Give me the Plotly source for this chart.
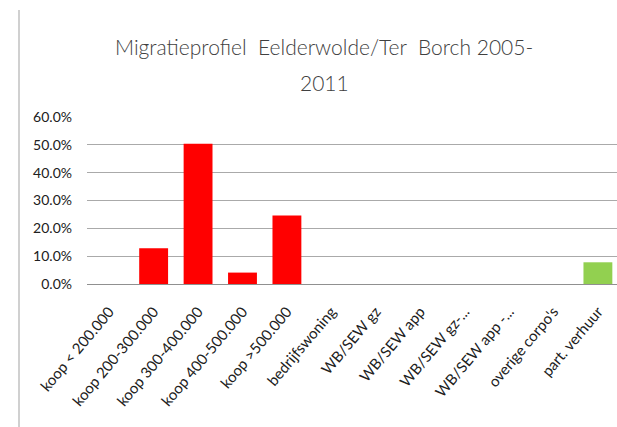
import plotly.graph_objects as go

categories = [
    "koop < 200.000", "koop 200-300.000", "koop 300-400.000", "koop 400-500.000",
    "koop >500.000", "bedrijfswoning", "WB/SEW gz", "WB/SEW app",
    "WB/SEW gz-...", "WB/SEW app -...", "overige corpo's", "part. verhuur",
]
values = [0.0, 0.128, 0.504, 0.041, 0.246, 0.0, 0.0, 0.0, 0.0, 0.0, 0.0, 0.078]
bar_colors = ["#ff0000"] * 11 + ["#92d050"]
tick_vals = [0.0, 0.1, 0.2, 0.3, 0.4, 0.5, 0.6]
tick_text = ["0.0%", "10.0%", "20.0%", "30.0%", "40.0%", "50.0%", "60.0%"]
title_lines = ["Migratieprofiel  Eelderwolde/Ter  Borch 2005-", "2011"]

W, H = 617, 427
L, R, T, B = 87, 0, 117, 143
pw, ph = W - L - R, H - T - B

def px_x(x):
    return (x - L) / pw

def px_y(y):
    return (H - B - y) / ph

fig = go.Figure(go.Bar(
    x=categories, y=values, marker=dict(color=bar_colors, line=dict(width=0)),
))

font_family = "Lato, Open Sans, sans-serif"

fig.update_layout(
    width=W, height=H,
    margin=dict(l=L, r=R, t=T, b=B, pad=0),
    paper_bgcolor="white", plot_bgcolor="white",
    bargap=0.35, showlegend=False,
    font=dict(family=font_family, color="#404040"),
    xaxis=dict(
        range=[-0.5, 11.43], tickangle=-50, showgrid=False, showline=False,
        ticks="", ticklabelstandoff=15,
        tickfont=dict(size=15, color="#202020", family=font_family),
    ),
    yaxis=dict(
        range=[0, 0.6], tickvals=tick_vals, ticktext=tick_text,
        showgrid=True, gridcolor="#aaaaaa", gridwidth=1,
        zeroline=True, zerolinecolor="#909090", zerolinewidth=1,
        showline=False, ticks="", ticklabelstandoff=14,
        tickfont=dict(size=14, color="#202020", family=font_family),
    ),
)

for txt, ypix in zip(title_lines, [46, 82]):
    fig.add_annotation(
        text=txt, x=px_x(324), y=px_y(ypix), xref="paper", yref="paper",
        showarrow=False, xanchor="center", yanchor="middle",
        font=dict(size=21, color="#404040", family="Lato Light, Lato, sans-serif"),
    )

# frame edge on the left of the chart area
fig.add_shape(
    type="line", xref="paper", yref="paper",
    x0=px_x(19), x1=px_x(19), y0=px_y(10), y1=px_y(427),
    line=dict(color="#d0d0d0", width=2),
)

fig.write_html("out.html")
